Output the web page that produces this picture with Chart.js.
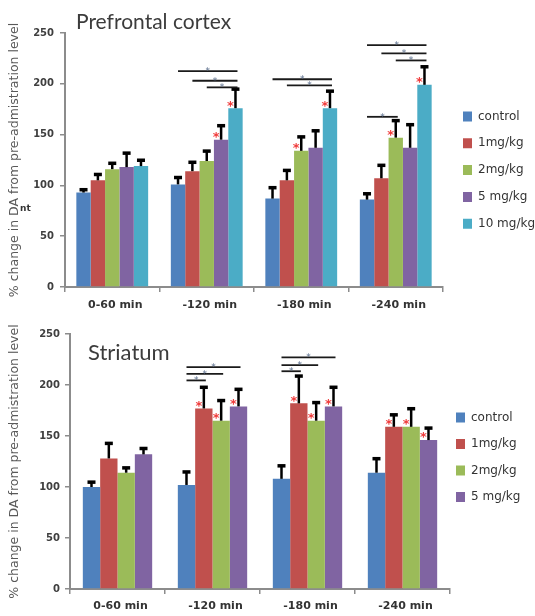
<!DOCTYPE html>
<html><head><meta charset="utf-8">
<script src="https://cdn.jsdelivr.net/npm/chart.js@4/dist/chart.umd.min.js"></script>
<style>
html,body{margin:0;padding:0;background:#fff;}
.w{position:absolute;left:0;}
</style></head><body>
<div class="w" style="top:0"><canvas id="c1" width="535" height="310"></canvas></div>
<div class="w" style="top:310px"><canvas id="c2" width="535" height="306"></canvas></div>
<script>
// ---- shared ----
const timeLabels = ['0-60 min', '-120 min', '-180 min', '-240 min'];
const seriesNames = ['control', '1mg/kg', '2mg/kg', '5 mg/kg', '10 mg/kg'];
const seriesColors = ['#4F81BD', '#C0504D', '#9BBB59', '#8064A2', '#4BACC6'];
const yTickValues = [0, 50, 100, 150, 200, 250];
const yTitle = '% change in DA from pre-admistration level';

// ---- Prefrontal cortex (mean % and SEM) ----
const pfcControl = [93, 101, 87, 86];
const pfc1mg     = [105, 114, 105, 107];
const pfc2mg     = [116, 124, 134, 147];
const pfc5mg     = [118, 145, 137, 137];
const pfc10mg    = [119, 176, 176, 199];
const pfcSemControl = [3, 7, 11, 6];
const pfcSem1mg     = [6, 9, 10, 13];
const pfcSem2mg     = [6, 10, 14, 17];
const pfcSem5mg     = [14, 14, 17, 23];
const pfcSem10mg    = [6, 19, 17, 18];
// significance vs control (red): [group, series]
const pfcStars = [[1,3],[1,4],[2,2],[2,4],[3,2],[3,4]];
// comparison brackets: [group, fromSeries, toSeries, level]
const pfcBrackets = [[1,0,4,212.5],[1,1,4,203],[1,2,4,196.5],
                     [2,0,4,204.5],[2,1,4,198.5],
                     [3,0,4,238],[3,1,4,230],[3,2,4,223],[3,0,2,167.5]];

// ---- Striatum ----
const strControl = [100, 102, 108, 114];
const str1mg     = [128, 177, 182, 159];
const str2mg     = [114, 165, 165, 159];
const str5mg     = [132, 179, 179, 146];
const strSemControl = [5, 13, 13, 14];
const strSem1mg     = [15, 21, 27, 12];
const strSem2mg     = [5, 20, 18, 18];
const strSem5mg     = [6, 17, 19, 12];
const strStars = [[1,1],[1,2],[1,3],[2,1],[2,2],[2,3],[3,1],[3,2],[3,3]];
const strBrackets = [[1,0,3,217.5],[1,0,2,211],[1,0,1,204.5],
                     [2,0,3,227],[2,0,2,219.5],[2,0,1,213.5]];

const annotate = {
  id: 'annotate',
  afterLayout(chart, args, o) {
    const lg = chart.legend;
    if (!lg) return;
    const lab = chart.options.plugins.legend.labels;
    lg.left = o.legendX - lab.padding;
    lg.right = lg.left + 90;
    lg.top = o.legendY - lab.font.size / 2 - lab.padding;
  },
  afterDatasetsDraw(chart, args, o) {
    const ctx = chart.ctx, ys = chart.scales.y;
    ctx.save();
    // error bars
    o.sem.forEach((arr, i) => {
      const meta = chart.getDatasetMeta(i);
      arr.forEach((e, j) => {
        const el = meta.data[j];
        const v = chart.data.datasets[i].data[j];
        const yt = ys.getPixelForValue(v + e);
        ctx.strokeStyle = '#000';
        ctx.lineWidth = 2.5;
        ctx.beginPath(); ctx.moveTo(el.x, el.y); ctx.lineTo(el.x, yt); ctx.stroke();
        ctx.fillStyle = '#000';
        ctx.fillRect(el.x - 4, yt - 1.5, 8, 3.5);
      });
    });
    // red stars
    ctx.fillStyle = '#f03c3c';
    ctx.font = 'bold 13px "DejaVu Sans"';
    ctx.textAlign = 'center';
    ctx.textBaseline = 'middle';
    o.stars.forEach(([g, s]) => {
      const el = chart.getDatasetMeta(s).data[g];
      ctx.fillText('*', el.x - 5, el.y - 2);
    });
    // brackets
    ctx.strokeStyle = '#1a1a1a';
    ctx.lineWidth = 1.8;
    ctx.font = '9px "DejaVu Sans"';
    ctx.textBaseline = 'alphabetic';
    o.brackets.forEach(([g, a, b, lvl]) => {
      const x1 = chart.getDatasetMeta(a).data[g].x;
      const x2 = chart.getDatasetMeta(b).data[g].x + 2;
      const yy = ys.getPixelForValue(lvl);
      ctx.beginPath(); ctx.moveTo(x1, yy); ctx.lineTo(x2, yy); ctx.stroke();
      ctx.fillStyle = '#5a6e8c';
      ctx.fillText('*', (x1 + x2) / 2, yy + 3);
    });
    ctx.restore();
  },
  afterDraw(chart, args, o) {
    const ctx = chart.ctx;
    ctx.save();
    ctx.fillStyle = '#3c3c3c';
    ctx.font = o.titleSize + 'px Lato';
    ctx.textAlign = 'left';
    ctx.textBaseline = 'alphabetic';
    ctx.fillText(o.title, o.titleX, o.titleY);
    if (o.extra) {
      ctx.font = 'bold 9px "DejaVu Sans"';
      ctx.fillStyle = '#333';
      ctx.fillText(o.extra, o.extraX, o.extraY);
    }
    ctx.restore();
  }
};

function makeChart(id, series, sems, opts) {
  const datasets = series.map((d, i) => ({
    label: seriesNames[i],
    data: d,
    backgroundColor: seriesColors[i],
    borderWidth: 0,
    categoryPercentage: opts.catPct,
    barPercentage: 1.0
  }));
  return new Chart(document.getElementById(id), {
    type: 'bar',
    data: { labels: timeLabels, datasets },
    plugins: [annotate],
    options: {
      responsive: false,
      animation: false,
      devicePixelRatio: 1,
      layout: { padding: { top: opts.padTop, right: opts.padRight, left: 0, bottom: 0 } },
      scales: {
        x: {
          grid: { drawOnChartArea: false, tickLength: 5, color: '#8c8c8c', lineWidth: 1.5, offset: true },
          border: { color: '#8c8c8c', width: 2 },
          ticks: { color: '#333', font: { family: 'DejaVu Sans', size: 11, weight: 'bold' },
                   padding: opts.xPad, maxRotation: 0, autoSkip: false, labelOffset: 3 },
          afterFit(s) { s.height = opts.xHeight; }
        },
        y: {
          min: 0, max: 250,
          afterBuildTicks(s) { s.ticks = yTickValues.map(v => ({ value: v })); },
          grid: { drawOnChartArea: false, tickLength: 5, color: '#8c8c8c', lineWidth: 1.5 },
          border: { color: '#8c8c8c', width: 2 },
          ticks: { color: '#3f3f3f', font: { family: 'DejaVu Sans', size: 10, weight: 'bold' }, padding: opts.yPad },
          title: { display: true, text: yTitle, color: '#595959',
                   font: { family: 'DejaVu Sans', size: 12.5 }, padding: { top: 7, bottom: 0 } },
          afterFit(s) { s.width = opts.yWidth; }
        }
      },
      plugins: {
        legend: {
          position: 'right', align: 'start', maxWidth: 60,
          labels: { boxWidth: 9, boxHeight: 10, padding: opts.legendPad, color: '#333',
                    font: { family: 'DejaVu Sans', size: 12 } }
        },
        tooltip: { enabled: false },
        annotate: Object.assign({ sem: sems }, opts.annot)
      }
    }
  });
}

makeChart('c1',
  [pfcControl, pfc1mg, pfc2mg, pfc5mg, pfc10mg],
  [pfcSemControl, pfcSem1mg, pfcSem2mg, pfcSem5mg, pfcSem10mg],
  { catPct: 0.76, padTop: 33, padRight: 32, xHeight: 23, xPad: 7, yWidth: 65, yPad: 6, legendPad: 14.8,
    annot: { stars: pfcStars, brackets: pfcBrackets, title: 'Prefrontal cortex', titleSize: 21,
             titleX: 76, titleY: 29, legendX: 463, legendY: 116.5,
             extra: 'nt', extraX: 20, extraY: 211 } });

makeChart('c2',
  [strControl, str1mg, str2mg, str5mg],
  [strSemControl, strSem1mg, strSem2mg, strSem5mg],
  { catPct: 0.73, padTop: 24, padRight: 25, xHeight: 27, xPad: 6, yWidth: 70, yPad: 5, legendPad: 14.5,
    annot: { stars: strStars, brackets: strBrackets, title: 'Striatum', titleSize: 22,
             titleX: 88, titleY: 50, legendX: 456, legendY: 107.5 } });
</script>
</body></html>
